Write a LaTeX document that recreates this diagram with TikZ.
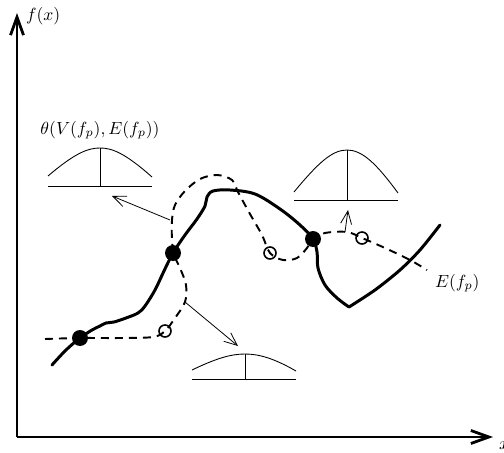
\documentclass[tikz,border=0pt]{standalone}
\usepackage{amsmath}
\usepackage{tikz}
\usetikzlibrary{arrows.meta,positioning,calc}

\begin{document}
\begin{tikzpicture}[
    x=0.02cm, y=-0.02cm,
    font=\normalsize,
    axis/.style={line width=1.6pt, -{Straight Barb[length=3.6mm,width=2.6mm]}},
    thick curve/.style={line width=1.7pt, line join=round, line cap=round},
    dash curve/.style={line width=1.1pt, dash pattern=on 1.6mm off 1.2mm},
    pointer/.style={line width=0.45pt, -{Straight Barb[length=2.6mm,width=2.2mm]}},
    icon/.style={line width=0.5pt},
    solid dot/.style={circle, fill=black, inner sep=0pt, minimum size=3.2mm},
    open dot/.style={circle, draw, line width=0.9pt, inner sep=0pt, minimum size=2.4mm}
]
\useasboundingbox (0,0) rectangle (504,453);

% axes
\coordinate (origin) at (17,437);
\coordinate (ytip) at (17,13);
\coordinate (xtip) at (493,437);
\draw[axis] (origin) -- (ytip);
\draw[axis] (origin) -- (xtip);
\node[anchor=west, inner sep=1pt] (ylab) at (24,16) {$f(x)$};
\node[anchor=west, inner sep=1pt] (xlab) at (497,446) {$x$};

% solid curve
\draw[thick curve] plot[smooth, tension=0.55] coordinates {
    (52,365) (66,350) (80,338) (92,330) (100,326) (106,323) (114,322)
    (126,318) (138,313) (145,306) (155,290) (164,271) (173,253) (185,235)
    (197,219) (205,206) (207,197) (213,191) (230,190) (255,194) (280,209)
    (300,225) (313,239) (317,252) (318,268) (325,285) (337,298) (349,307)};
\draw[thick curve] plot[smooth, tension=0.5] coordinates {
    (349,307) (375,290) (400,270) (420,250) (440,225)};

% dashed curve
\draw[dash curve] plot[smooth, tension=0.55] coordinates {
    (45,339) (80,338) (120,338) (153,337) (165,331) (175,318) (185,302)
    (186,285) (180,268) (174,255) (172,240) (172,220) (175,205) (185,191)
    (200,179) (217,175) (232,180) (238,192) (250,214) (262,235) (270,253)
    (283,260) (297,258) (307,248) (313,239) (325,233) (347,232) (362,238)
    (385,248) (410,260) (427,270)};
\node[anchor=west, inner sep=1pt] (elab) at (433,283) {$E(f_p)$};

% points on the curves
\node[solid dot] (p1) at (80,338) {};
\node[solid dot] (p2) at (173,253) {};
\node[solid dot] (p3) at (313,239) {};
\node[open dot] (q1) at (165,331) {};
\node[open dot] (q2) at (270,253) {};
\node[open dot] (q3) at (362,238) {};

% distributions
\draw[icon] (48,186) -- (152,186);
\draw[icon] (100,186) -- (100,148);
\draw[icon] (48,176) .. controls (75,153) and (88,148) .. (100,148)
    .. controls (112,148) and (125,153) .. (152,177);
\node (theta) at (100,130) {$\theta(V(f_p),E(f_p))$};

\draw[icon] (294,200) -- (398,200);
\draw[icon] (347,200) -- (347,150);
\draw[icon] (294,192) .. controls (318,163) and (332,150) .. (347,150)
    .. controls (362,150) and (376,163) .. (398,193);

\draw[icon] (192,379) -- (296,379);
\draw[icon] (245,379) -- (245,354);
\draw[icon] (192,370) .. controls (215,359) and (230,354) .. (245,354)
    .. controls (260,354) and (275,359) .. (296,371);

% pointers
\coordinate (a1) at (170,220);
\coordinate (b1) at (112,196);
\coordinate (a2) at (185,302);
\coordinate (b2) at (238,346);
\coordinate (a3) at (345,232);
\coordinate (b3) at (348,210);
\draw[pointer] (a1) -- (b1);
\draw[pointer] (a2) -- (b2);
\draw[pointer] (a3) -- (b3);
\end{tikzpicture}
\end{document}
